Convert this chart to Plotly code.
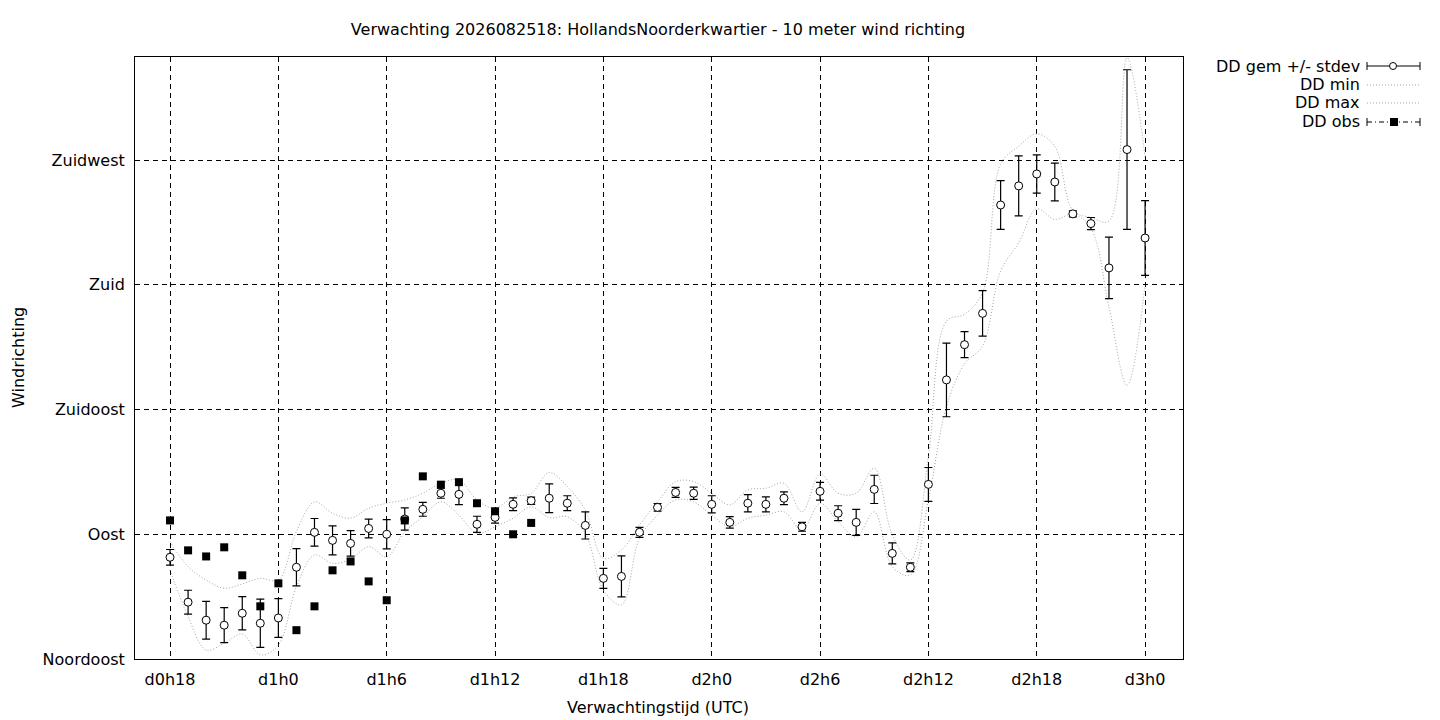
import plotly.graph_objects as go

# forecast hours, d0h18 .. d3h0
uur = list(range(18, 73))

# DD gemiddelde en standaarddeviatie (graden)
dd_gem = [81.7, 65.5, 59.0, 57.2, 61.5, 57.9, 59.8, 78.1, 90.7, 87.8,
          86.7, 92.1, 90.0, 95.5, 99.0, 104.8, 104.4, 93.6, 96.1, 100.8,
          102.1, 103.0, 101.2, 93.2, 74.1, 74.8, 90.7, 99.7, 105.1, 104.8,
          100.8, 94.3, 101.2, 100.8, 103.0, 92.7, 105.5, 97.6, 94.3, 106.2,
          83.1, 78.1, 108.0, 145.7, 158.4, 169.7, 208.8, 215.7, 220.0, 217.1,
          205.6, 202.1, 186.1, 228.8, 196.9]
dd_std = [2.8, 4.3, 6.8, 6.3, 6.0, 8.7, 7.0, 6.7, 5.0, 5.2,
          4.6, 3.4, 5.3, 4.0, 2.5, 1.8, 3.7, 2.9, 2.1, 2.3,
          1.3, 5.2, 2.7, 4.9, 3.6, 7.4, 1.8, 1.4, 1.8, 2.2,
          3.1, 2.1, 3.1, 2.7, 2.3, 1.6, 3.2, 2.7, 4.7, 5.1,
          3.8, 1.6, 6.1, 13.3, 4.7, 8.2, 8.8, 10.8, 6.9, 6.8,
          1.1, 2.2, 11.1, 28.8, 13.5]
dd_min = [77.1, 60.3, 48.2, 50.7, 54.0, 46.5, 50.0, 71.1, 82.5, 79.5,
          81.0, 85.5, 81.9, 90.9, 96.3, 101.7, 96.9, 90.3, 92.7, 95.8,
          99.9, 96.0, 96.3, 90.3, 69.9, 64.5, 88.5, 96.9, 102.4, 101.7,
          96.9, 92.7, 95.8, 96.9, 98.1, 91.5, 101.2, 94.5, 89.1, 98.1,
          78.3, 75.3, 102.5, 136.0, 151.5, 157.9, 185.0, 195.2, 207.4, 203.6,
          205.5, 200.4, 172.0, 143.7, 179.9]
dd_max = [87.3, 78.3, 73.5, 70.5, 72.1, 74.1, 73.5, 91.0, 101.7, 97.6,
          95.8, 99.4, 101.2, 102.4, 104.8, 108.4, 109.6, 102.4, 99.4, 103.5,
          104.8, 112.3, 107.2, 98.7, 81.3, 84.3, 93.3, 101.7, 109.0, 109.0,
          104.8, 100.6, 106.0, 106.6, 108.4, 98.1, 111.7, 104.8, 104.8, 113.8,
          89.7, 80.7, 118.0, 166.9, 169.4, 177.2, 223.6, 230.0, 234.5, 230.0,
          206.8, 204.3, 203.0, 262.0, 226.2]

# waarnemingen (alleen verleden)
obs_uur = list(range(18, 39))
dd_obs = [95.0, 84.2, 82.0, 85.3, 75.2, 64.0, 72.3, 55.4, 64.0, 77.0,
          80.2, 73.0, 66.2, 95.0, 110.9, 107.9, 108.8, 101.2, 98.3, 90.0,
          94.1]

x_ticks = [18, 24, 30, 36, 42, 48, 54, 60, 66, 72]
x_labels = ['d0h18', 'd1h0', 'd1h6', 'd1h12', 'd1h18', 'd2h0', 'd2h6',
            'd2h12', 'd2h18', 'd3h0']
y_ticks = [45, 90, 135, 180, 225]
y_labels = ['Noordoost', 'Oost', 'Zuidoost', 'Zuid', 'Zuidwest']

FONT = 'DejaVu Sans'
FS = 16
GRAY = '#a4a4a4'
W, H = 1440, 720
L, R, T, B = 135, 257, 57, 61
PW, PH = W - L - R, H - T - B


def px(xp):
    return (xp - L) / PW


def py(yp):
    return (H - B - yp) / PH


fig = go.Figure()

fig.add_trace(go.Scatter(x=uur, y=dd_min, mode='lines', name='DD min',
                         line=dict(color=GRAY, width=1, dash='1px,2px',
                                   shape='spline', smoothing=1.0)))
fig.add_trace(go.Scatter(x=uur, y=dd_max, mode='lines', name='DD max',
                         line=dict(color=GRAY, width=1, dash='1px,2px',
                                   shape='spline', smoothing=1.0)))
fig.add_trace(go.Scatter(
    x=uur, y=dd_gem, mode='markers', name='DD gem +/- stdev',
    error_y=dict(type='data', array=dd_std, color='black', thickness=1.2, width=4),
    marker=dict(symbol='circle', size=8, color='white',
                line=dict(color='black', width=1))))
fig.add_trace(go.Scatter(x=obs_uur, y=dd_obs, mode='markers', name='DD obs',
                         marker=dict(symbol='square', size=8, color='black')))

# legenda in gnuplot-stijl
shapes = []
annotations = []
rows = [66, 85, 103, 122]
names = ['DD gem +/- stdev', 'DD min', 'DD max', 'DD obs']
x0, x1 = 1367, 1420
for i, (r, n) in enumerate(zip(rows, names)):
    annotations.append(dict(x=px(1362), y=py(r), xref='paper', yref='paper',
                            text=n, showarrow=False, xanchor='right',
                            yanchor='middle', font=dict(family=FONT, size=FS, color='black')))
    if i in (1, 2):
        shapes.append(dict(type='line', xref='paper', yref='paper',
                           x0=px(x0), x1=px(x1), y0=py(r), y1=py(r),
                           line=dict(color=GRAY, width=1, dash='1px,2px')))
    else:
        shapes.append(dict(type='line', xref='paper', yref='paper',
                           x0=px(x0), x1=px(x1), y0=py(r), y1=py(r),
                           line=dict(color='black', width=1,
                                     dash='solid' if i == 0 else '5px,3px,1px,3px')))
        for xe in (x0, x1):
            shapes.append(dict(type='line', xref='paper', yref='paper',
                               x0=px(xe), x1=px(xe), y0=py(r - 4), y1=py(r + 4),
                               line=dict(color='black', width=1)))
        if i == 0:
            shapes.append(dict(type='circle', xref='paper', yref='paper',
                               xsizemode='pixel', ysizemode='pixel',
                               xanchor=px(1393), yanchor=py(r),
                               x0=-3.5, x1=3.5, y0=-3.5, y1=3.5,
                               fillcolor='white', line=dict(color='black', width=1)))
        else:
            shapes.append(dict(type='rect', xref='paper', yref='paper',
                               xsizemode='pixel', ysizemode='pixel',
                               xanchor=px(1394), yanchor=py(r),
                               x0=-4, x1=4, y0=-4, y1=4,
                               fillcolor='black', line=dict(color='black', width=0)))

annotations.append(dict(x=px(658), y=py(707), xref='paper', yref='paper',
                        text='Verwachtingstijd (UTC)', showarrow=False,
                        xanchor='center', yanchor='middle',
                        font=dict(family=FONT, size=FS, color='black')))
annotations.append(dict(x=px(18), y=py(358), xref='paper', yref='paper',
                        text='Windrichting', showarrow=False, textangle=-90,
                        xanchor='center', yanchor='middle',
                        font=dict(family=FONT, size=FS, color='black')))

fig.update_layout(
    width=W, height=H,
    margin=dict(l=L, r=R, t=T, b=B),
    paper_bgcolor='white', plot_bgcolor='white',
    font=dict(family=FONT, size=FS, color='black'),
    showlegend=False,
    title=dict(text='Verwachting 2026082518: HollandsNoorderkwartier - 10 meter wind richting',
               x=px(658), xref='paper', xanchor='center',
               y=1 - 29 / H, yref='container', yanchor='middle',
               font=dict(family=FONT, size=FS, color='black')),
    shapes=shapes,
    annotations=annotations,
)
fig.update_xaxes(range=[16.06, 74.1], tickvals=x_ticks, ticktext=x_labels,
                 showgrid=True, gridcolor='black', gridwidth=1, griddash='5px,4px',
                 showline=True, linecolor='black', linewidth=1, mirror=True,
                 zeroline=False, ticks='', ticklabelstandoff=6)
fig.update_yaxes(range=[45, 262.2], tickvals=y_ticks, ticktext=y_labels,
                 showgrid=True, gridcolor='black', gridwidth=1, griddash='5px,4px',
                 showline=True, linecolor='black', linewidth=1, mirror=True,
                 zeroline=False, ticks='', ticklabelstandoff=6)

fig.write_html('out.html', config={'displayModeBar': False},
               post_script="document.body.style.margin='0';")
